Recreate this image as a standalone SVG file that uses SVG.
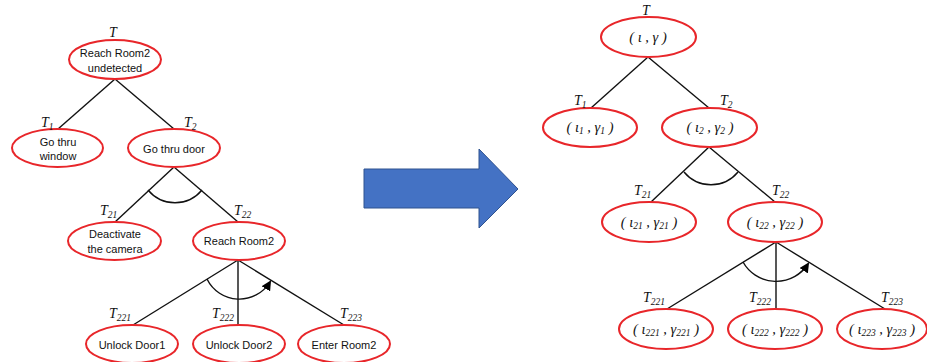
<svg xmlns="http://www.w3.org/2000/svg" width="927" height="362" viewBox="0 0 927 362">
<defs>
<marker id="ah" markerWidth="10" markerHeight="10" refX="8" refY="5" orient="auto" markerUnits="userSpaceOnUse">
<path d="M0,0 L10,5 L0,10 Z" fill="#000"/>
</marker>
</defs>
<style>
.n ellipse{fill:#fff;stroke:#e8262a;stroke-width:2}
.lbl{font-family:"Liberation Sans",Arial,sans-serif;font-size:11px;fill:#111;text-anchor:middle}
.t{font-family:"Liberation Serif","Times New Roman",serif;font-style:italic;font-size:14px;fill:#111}
.s{font-size:9.5px}
.m{font-family:"Liberation Serif","Times New Roman",serif;font-style:italic;font-size:14.5px;fill:#111;text-anchor:middle}
.c line,.c path{stroke:#111;stroke-width:1.4;fill:none}
</style>
<rect width="927" height="362" fill="#fff"/>
<g class="c" id="connectors">
<line x1="115" y1="79" x2="58" y2="129"/>
<line x1="115" y1="79" x2="174" y2="129"/>
<line x1="174" y1="167" x2="115" y2="222"/>
<line x1="174" y1="167" x2="238" y2="222"/>
<path d="M148,190 A35,35 0 0,0 202,190"/>
<line x1="238" y1="260" x2="133" y2="325"/>
<line x1="238" y1="260" x2="238" y2="325"/>
<line x1="238" y1="260" x2="344" y2="325"/>
<path d="M207,279 A36,36 0 0,0 270,282" marker-end="url(#ah)"/>
<line x1="648" y1="57" x2="591" y2="108"/>
<line x1="648" y1="57" x2="709" y2="108"/>
<line x1="709" y1="147" x2="651" y2="202"/>
<line x1="709" y1="147" x2="775" y2="202"/>
<path d="M684,172 A35,35 0 0,0 738,172"/>
<line x1="776" y1="242" x2="667" y2="309"/>
<line x1="776" y1="242" x2="776" y2="309"/>
<line x1="776" y1="242" x2="885" y2="309"/>
<path d="M743,262 A38,38 0 0,0 808,264" marker-end="url(#ah)"/>
</g>
<g id="bigarrow">
<path d="M364,169 L479,169 L479,149 L518,189 L479,228 L479,208 L364,208 Z" fill="#4472c4" stroke="#2f528f" stroke-width="1"/>
</g>
<g class="n" id="L_T">
<ellipse cx="115" cy="59.5" rx="46" ry="19.5"/>
<text class="t" x="109" y="37">T</text>
<text class="lbl" x="115" y="57">Reach Room2</text>
<text class="lbl" x="115" y="72">undetected</text>
</g>
<g class="n" id="L_T1">
<ellipse cx="57.5" cy="148" rx="45.5" ry="19"/>
<text class="t" x="41" y="127">T<tspan class="s" dy="3">1</tspan></text>
<text class="lbl" x="58" y="146">Go thru</text>
<text class="lbl" x="58" y="160">window</text>
</g>
<g class="n" id="L_T2">
<ellipse cx="174" cy="148" rx="46" ry="19"/>
<text class="t" x="184" y="127">T<tspan class="s" dy="3">2</tspan></text>
<text class="lbl" x="174" y="153">Go thru door</text>
</g>
<g class="n" id="L_T21">
<ellipse cx="114.5" cy="241" rx="46.5" ry="19"/>
<text class="t" x="100" y="215">T<tspan class="s" dy="3">21</tspan></text>
<text class="lbl" x="115" y="238">Deactivate</text>
<text class="lbl" x="115" y="253">the camera</text>
</g>
<g class="n" id="L_T22">
<ellipse cx="239" cy="241" rx="46" ry="19"/>
<text class="t" x="234" y="215">T<tspan class="s" dy="3">22</tspan></text>
<text class="lbl" x="239" y="245">Reach Room2</text>
</g>
<g class="n" id="L_T221">
<ellipse cx="132" cy="344" rx="46" ry="19"/>
<text class="t" x="109" y="318">T<tspan class="s" dy="3">221</tspan></text>
<text class="lbl" x="132" y="349">Unlock Door1</text>
</g>
<g class="n" id="L_T222">
<ellipse cx="239" cy="344" rx="46" ry="19"/>
<text class="t" x="212" y="318">T<tspan class="s" dy="3">222</tspan></text>
<text class="lbl" x="239" y="349">Unlock Door2</text>
</g>
<g class="n" id="L_T223">
<ellipse cx="344" cy="344" rx="46" ry="19"/>
<text class="t" x="340" y="318">T<tspan class="s" dy="3">223</tspan></text>
<text class="lbl" x="344" y="349">Enter Room2</text>
</g>
<g class="n" id="R_T">
<ellipse cx="648.5" cy="37" rx="47.5" ry="20"/>
<text class="t" x="642" y="15">T</text>
<text class="m" x="648" y="42">( ι , γ )</text>
</g>
<g class="n" id="R_T1">
<ellipse cx="590" cy="127.5" rx="47" ry="19.5"/>
<text class="t" x="574" y="105">T<tspan class="s" dy="3">1</tspan></text>
<text class="m" x="590" y="132">( ι<tspan class="s" dy="2">1</tspan><tspan dy="-2"> , γ</tspan><tspan class="s" dy="2">1</tspan><tspan dy="-2"> )</tspan></text>
</g>
<g class="n" id="R_T2">
<ellipse cx="709.5" cy="127.5" rx="47.5" ry="19.5"/>
<text class="t" x="720" y="105">T<tspan class="s" dy="3">2</tspan></text>
<text class="m" x="710" y="132">( ι<tspan class="s" dy="2">2</tspan><tspan dy="-2"> , γ</tspan><tspan class="s" dy="2">2</tspan><tspan dy="-2"> )</tspan></text>
</g>
<g class="n" id="R_T21">
<ellipse cx="649" cy="222" rx="47" ry="20"/>
<text class="t" x="634" y="195">T<tspan class="s" dy="3">21</tspan></text>
<text class="m" x="649" y="227">( ι<tspan class="s" dy="2">21</tspan><tspan dy="-2"> , γ</tspan><tspan class="s" dy="2">21</tspan><tspan dy="-2"> )</tspan></text>
</g>
<g class="n" id="R_T22">
<ellipse cx="775" cy="222" rx="47" ry="20"/>
<text class="t" x="772" y="195">T<tspan class="s" dy="3">22</tspan></text>
<text class="m" x="775" y="227">( ι<tspan class="s" dy="2">22</tspan><tspan dy="-2"> , γ</tspan><tspan class="s" dy="2">22</tspan><tspan dy="-2"> )</tspan></text>
</g>
<g class="n" id="R_T221">
<ellipse cx="666" cy="329" rx="47" ry="20"/>
<text class="t" x="643" y="302">T<tspan class="s" dy="3">221</tspan></text>
<text class="m" x="666" y="334">( ι<tspan class="s" dy="2">221</tspan><tspan dy="-2"> , γ</tspan><tspan class="s" dy="2">221</tspan><tspan dy="-2"> )</tspan></text>
</g>
<g class="n" id="R_T222">
<ellipse cx="775" cy="329" rx="47" ry="20"/>
<text class="t" x="749" y="302">T<tspan class="s" dy="3">222</tspan></text>
<text class="m" x="775" y="334">( ι<tspan class="s" dy="2">222</tspan><tspan dy="-2"> , γ</tspan><tspan class="s" dy="2">222</tspan><tspan dy="-2"> )</tspan></text>
</g>
<g class="n" id="R_T223">
<ellipse cx="882" cy="329" rx="45" ry="20"/>
<text class="t" x="881" y="302">T<tspan class="s" dy="3">223</tspan></text>
<text class="m" x="882" y="334">( ι<tspan class="s" dy="2">223</tspan><tspan dy="-2"> , γ</tspan><tspan class="s" dy="2">223</tspan><tspan dy="-2"> )</tspan></text>
</g>
</svg>
